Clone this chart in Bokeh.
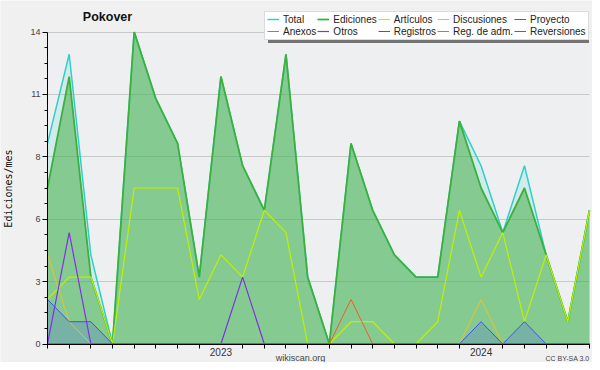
from bokeh.plotting import figure
from bokeh.models import (Legend, LegendItem, FixedTicker, CustomJSTickFormatter,
                          Label, Range1d)
from bokeh.embed import file_html
from bokeh.resources import INLINE

# Monthly data, May 2022 .. June 2024
months = ["2022-05", "2022-06", "2022-07", "2022-08", "2022-09", "2022-10", "2022-11",
          "2022-12", "2023-01", "2023-02", "2023-03", "2023-04", "2023-05", "2023-06",
          "2023-07", "2023-08", "2023-09", "2023-10", "2023-11", "2023-12", "2024-01",
          "2024-02", "2024-03", "2024-04", "2024-05", "2024-06"]
total       = [9, 13, 4, 0, 14, 11, 9, 3, 12, 8, 6, 13, 3, 0, 9, 6, 4, 3, 3, 10, 8, 5, 8, 4, 1, 6]
ediciones   = [7, 12, 3, 0, 14, 11, 9, 3, 12, 8, 6, 13, 3, 0, 9, 6, 4, 3, 3, 10, 7, 5, 7, 4, 1, 6]
articulos   = [2, 3, 3, 0, 7, 7, 7, 2, 4, 3, 6, 5, 0, 0, 1, 1, 0, 0, 1, 6, 3, 5, 1, 4, 1, 6]
discusiones = [4, 1, 0, 0, 0, 0, 0, 0, 0, 0, 0, 0, 0, 0, 0, 0, 0, 0, 0, 0, 2, 0, 0, 0, 0, 0]
proyecto    = [0, 0, 0, 0, 0, 0, 0, 0, 0, 0, 0, 0, 0, 0, 0, 0, 0, 0, 0, 0, 0, 0, 0, 0, 0, 0]
anexos      = [0, 0, 0, 0, 0, 0, 0, 0, 0, 0, 0, 0, 0, 0, 2, 0, 0, 0, 0, 0, 0, 0, 0, 0, 0, 0]
otros       = [0, 5, 0, 0, 0, 0, 0, 0, 0, 3, 0, 0, 0, 0, 0, 0, 0, 0, 0, 0, 0, 0, 0, 0, 0, 0]
registros   = [2, 1, 1, 0, 0, 0, 0, 0, 0, 0, 0, 0, 0, 0, 0, 0, 0, 0, 0, 0, 1, 0, 1, 0, 0, 0]
reg_adm     = [0, 0, 0, 0, 0, 0, 0, 0, 0, 0, 0, 0, 0, 0, 0, 0, 0, 0, 0, 0, 0, 0, 0, 0, 0, 0]
reversiones = [0, 0, 0, 0, 0, 0, 0, 0, 0, 0, 0, 0, 0, 0, 0, 0, 0, 0, 0, 0, 0, 0, 0, 0, 0, 0]

year_ticks = ["2023-01", "2024-01"]
year_labels = ["2023", "2024"]
y_ticks = [0, 2.8, 5.6, 8.4, 11.2, 14]
y_minor = [0.7, 1.4, 2.1, 3.5, 4.2, 4.9, 6.3, 7.0, 7.7, 9.1, 9.8, 10.5, 11.9, 12.6, 13.3]
y_max = 14

x = list(range(len(months)))
zeros = [0] * len(months)
x_last = len(months) - 1

FONT = "Liberation Sans"
W, H = 592, 362
# pixel geometry of the data area inside the figure
PX_L, PX_R, PX_T, PX_B = 47.0, 589.0, 31.5, 343.5
kx = (PX_R - PX_L) / x_last
ky = (PX_B - PX_T) / y_max
x_range = Range1d(-PX_L / kx, x_last + (W - PX_R) / kx)
y_range = Range1d(-(H - PX_B) / ky, y_max + PX_T / ky)

def dx(px):
    return (px - PX_L) / kx

def dy(py):
    return (PX_B - py) / ky

p = figure(width=W, height=H, output_backend="svg", toolbar_location=None,
           x_range=x_range, y_range=y_range, min_border=0, title=None)
p.background_fill_color = "#f0f0f0"
p.border_fill_color = "#f0f0f0"
p.outline_line_color = None

# plotting-area background
p.quad(left=[0], right=[x_last], bottom=[0], top=[y_max],
       fill_color="#eeeff1", line_color=None, level="image")

# areas
p.varea(x=x, y1=zeros, y2=total, fill_color="#30d0c8", fill_alpha=0.15)
p.varea(x=x, y1=zeros, y2=ediciones, fill_color="#3fae3f", fill_alpha=0.52)
p.varea(x=x, y1=zeros, y2=registros, fill_color="#4050f0", fill_alpha=0.2)

# lines
r_total = p.line(x, total, line_color="#30d0c8", line_width=1.5)
r_edic = p.line(x, ediciones, line_color="#3cb03c", line_width=1.8)
r_art = p.line(x, articulos, line_color="#c0f000", line_width=1.2)
r_disc = p.line(x, discusiones, line_color="#f0c020", line_width=1)
r_proy = p.line(x, proyecto, line_color="#606060", line_width=1)
r_anex = p.line(x, anexos, line_color="#f06020", line_width=1)
r_otros = p.line(x, otros, line_color="#8030e0", line_width=1.2)
r_reg = p.line(x, registros, line_color="#4050f0", line_width=1)
r_regadm = p.line(x, reg_adm, line_color="#d050e0", line_width=1)
r_rev = p.line(x, reversiones, line_color="#e03030", line_width=1)

# grid
p.xgrid.grid_line_color = None
p.ygrid.grid_line_color = "#c8c8c8"
p.ygrid.ticker = FixedTicker(ticks=y_ticks)
p.ygrid.cross_bounds = (0, x_last)

# x axis
xt = [months.index(m) for m in year_ticks]
p.xaxis.fixed_location = 0
p.xaxis.bounds = (0, x_last)
p.xaxis.ticker = FixedTicker(ticks=xt, minor_ticks=[i for i in x if i not in xt])
p.xaxis.major_label_overrides = {t: l for t, l in zip(xt, year_labels)}
p.xaxis.major_tick_out = 0
p.xaxis.major_tick_in = 0
p.xaxis.minor_tick_out = 4
p.xaxis.minor_tick_in = 0
p.xaxis.major_label_standoff = 0
p.xaxis.major_label_text_font = FONT
p.xaxis.major_label_text_font_size = "10px"
p.xaxis.major_label_text_color = "#333333"
p.xaxis.axis_line_color = "black"

# y axis
p.yaxis.fixed_location = 0
p.yaxis.bounds = (0, y_max)
p.yaxis.ticker = FixedTicker(ticks=y_ticks, minor_ticks=y_minor)
p.yaxis.formatter = CustomJSTickFormatter(code="return Math.round(tick).toString();")
p.yaxis.major_tick_out = 5
p.yaxis.major_tick_in = 0
p.yaxis.minor_tick_out = 3
p.yaxis.minor_tick_in = 0
p.yaxis.major_label_standoff = 2
p.yaxis.major_label_text_font = FONT
p.yaxis.major_label_text_font_size = "9px"
p.yaxis.major_label_text_color = "#444444"
p.yaxis.axis_line_color = "black"
p.yaxis.axis_label = "Ediciones/mes"
p.yaxis.axis_label_text_font = "DejaVu Sans Mono"
p.yaxis.axis_label_text_font_style = "normal"
p.yaxis.axis_label_text_font_size = "10px"
p.yaxis.axis_label_text_color = "#111111"
p.yaxis.axis_label_standoff = 13

# texts
p.add_layout(Label(x=dx(107), y=dy(16), text="Pokover", text_font=FONT,
                   text_font_style="bold", text_font_size="12.5px", text_align="center",
                   text_baseline="middle", text_color="#111111"))
p.add_layout(Label(x=dx(300), y=dy(357), text="wikiscan.org", text_font=FONT,
                   text_font_size="9px", text_align="center", text_baseline="middle",
                   text_color="#444444"))
p.add_layout(Label(x=dx(589), y=dy(357.5), text="CC BY-SA 3.0", text_font=FONT,
                   text_font_size="7px", text_align="right", text_baseline="middle",
                   text_color="#444444"))

# legend drop shadow: an empty single-item legend box under the real legend
dummy = p.line(x=[], y=[], line_alpha=0)
shadow = Legend(items=[LegendItem(label=" ", renderers=[dummy])],
                location=(267.5, H - 43), orientation="horizontal",
                glyph_width=321, glyph_height=25, label_width=0, label_height=25,
                label_standoff=0, label_text_font_size="1px", label_text_alpha=0,
                padding=2, margin=0, spacing=0,
                background_fill_color="#747474", background_fill_alpha=1,
                border_line_color=None)
p.add_layout(shadow)

names = ["Total", "Ediciones", "Artículos", "Discusiones", "Proyecto",
         "Anexos", "Otros", "Registros", "Reg. de adm.", "Reversiones"]
rends = [r_total, r_edic, r_art, r_disc, r_proy, r_anex, r_otros, r_reg, r_regadm, r_rev]
items = [LegendItem(label=n, renderers=[r]) for n, r in zip(names, rends)]
legend = Legend(items=items, location=(264, H - 39.5), orientation="horizontal", ncols=5,
                label_text_font=FONT, label_text_font_size="10px",
                label_text_color="#222222", glyph_width=12, glyph_height=10,
                label_height=10, label_standoff=4, spacing=1, padding=2, margin=0,
                background_fill_color="white", background_fill_alpha=1,
                border_line_color="#b8b8b8", border_line_width=1)
p.add_layout(legend)

open("out.html", "w").write(file_html(p, INLINE))
